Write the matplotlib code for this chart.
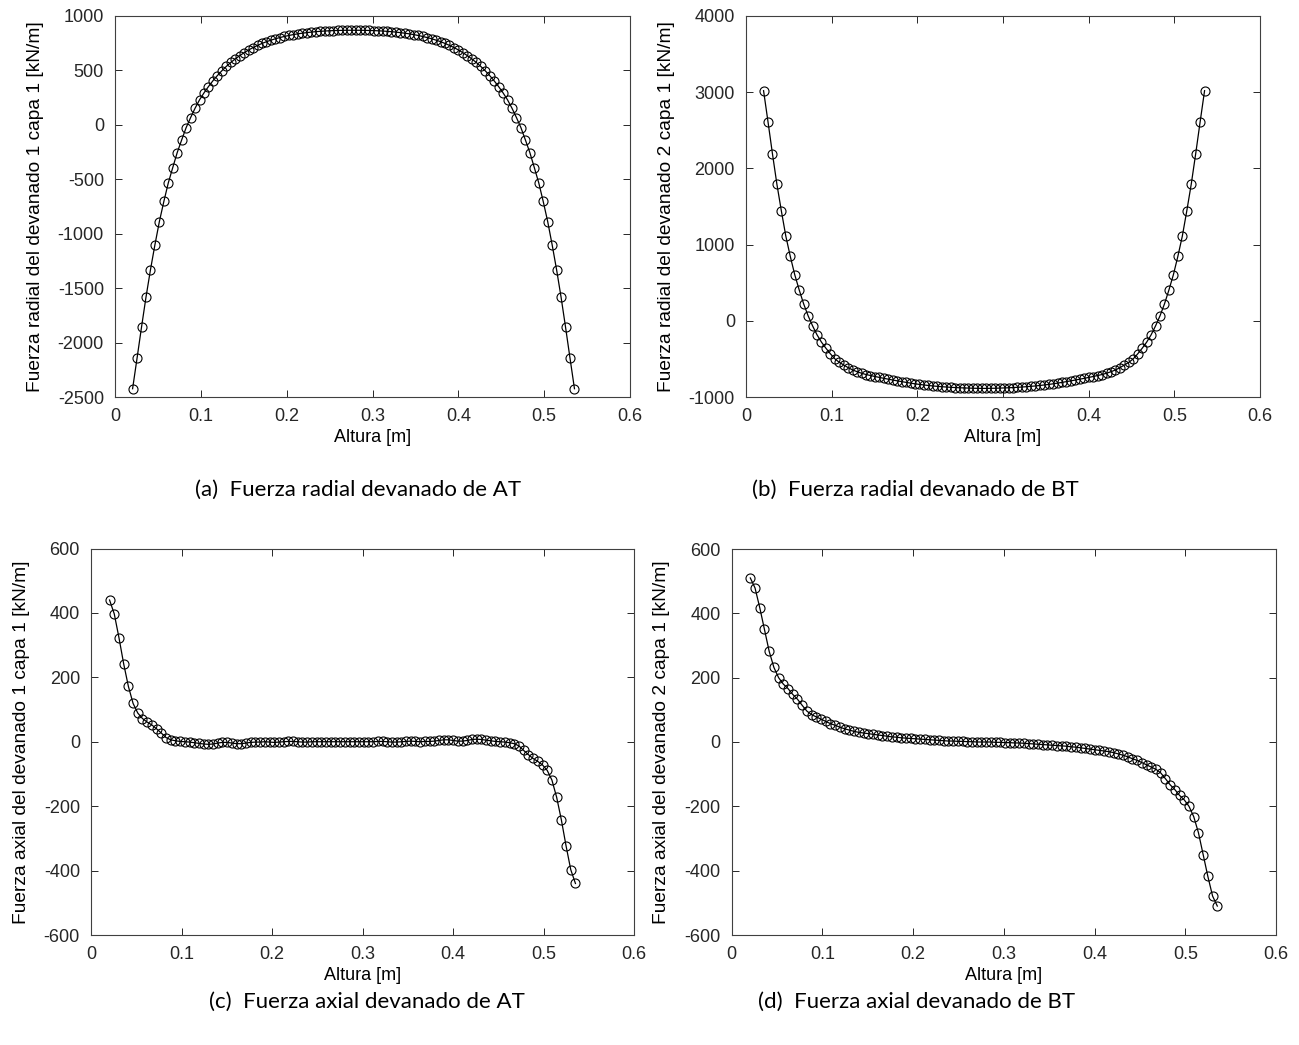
import matplotlib
matplotlib.use("Agg")
import matplotlib.pyplot as plt

# Altura [m] (disc positions)
altura = [0.0205, 0.0257, 0.0309, 0.0361, 0.0413, 0.0465, 0.0517, 0.0569, 0.0621, 0.0673,
          0.0725, 0.0777, 0.0829, 0.0881, 0.0933, 0.0985, 0.1037, 0.1089, 0.1141, 0.1193,
          0.1245, 0.1297, 0.1349, 0.1401, 0.1453, 0.1505, 0.1557, 0.1609, 0.1661, 0.1713,
          0.1765, 0.1817, 0.1869, 0.1921, 0.1973, 0.2025, 0.2077, 0.2129, 0.2181, 0.2233,
          0.2285, 0.2337, 0.2389, 0.2441, 0.2493, 0.2545, 0.2597, 0.2649, 0.2701, 0.2753,
          0.2805, 0.2857, 0.2909, 0.2961, 0.3013, 0.3065, 0.3117, 0.3169, 0.3221, 0.3273,
          0.3325, 0.3377, 0.3429, 0.3481, 0.3533, 0.3585, 0.3637, 0.3689, 0.3741, 0.3793,
          0.3845, 0.3897, 0.3949, 0.4001, 0.4053, 0.4105, 0.4157, 0.4209, 0.4261, 0.4313,
          0.4365, 0.4417, 0.4469, 0.4521, 0.4573, 0.4625, 0.4677, 0.4729, 0.4781, 0.4833,
          0.4885, 0.4937, 0.4989, 0.5041, 0.5093, 0.5145, 0.5197, 0.5249, 0.5301, 0.5353]

radial_at = [-2424, -2143, -1858, -1583, -1332, -1102, -888, -704, -533, -392,
             -254, -138, -25, 67, 153, 230, 294, 352, 405, 453,
             497, 537, 573, 606, 636, 663, 688, 710, 730, 748,
             764, 778, 791, 802, 812, 821, 829, 836, 842, 847,
             852, 856, 859, 862, 864, 866, 867, 868, 869, 869,
             869, 869, 868, 867, 866, 864, 862, 859, 856, 852,
             847, 842, 836, 829, 821, 812, 802, 791, 778, 764,
             748, 730, 710, 688, 663, 636, 606, 573, 537, 497,
             453, 405, 352, 294, 230, 153, 67, -25, -138, -254,
             -392, -533, -704, -888, -1102, -1332, -1583, -1858, -2143, -2424]

radial_bt = [3020, 2610, 2190, 1790, 1440, 1110, 845, 605, 405, 222,
             66, -66, -184, -280, -360, -433, -499, -545, -580, -615,
             -645, -668, -688, -705, -718, -731, -743, -755, -766, -777,
             -788, -798, -808, -818, -827, -835, -842, -849, -855, -860,
             -865, -869, -873, -876, -879, -881, -883, -885, -886, -887,
             -887, -886, -885, -883, -881, -879, -876, -873, -869, -865,
             -860, -855, -849, -842, -835, -827, -818, -808, -798, -788,
             -777, -766, -755, -743, -731, -718, -705, -688, -668, -645,
             -615, -580, -545, -499, -433, -360, -280, -184, -66, 66,
             222, 405, 605, 845, 1110, 1440, 1790, 2190, 2610, 3020]

axial_at = [440, 397, 323, 242, 172, 119, 89, 72, 61, 52,
            40, 27, 13, 6, 3, 1, 0, -1, -3, -5,
            -7, -8, -7, -4, -2, -2, -4, -6, -6, -4,
            -2, -1, -1, 0, -1, -2, -1, 0, 1, 1,
            0, -1, -1, 0, 0, 0, 0, 0, 0, 0,
            0, 0, 0, 0, 0, 0, 0, 1, 1, 0,
            -1, -1, 0, 1, 2, 1, 0, 1, 1, 2,
            4, 6, 6, 4, 2, 2, 4, 7, 8, 7,
            5, 3, 1, 0, -1, -3, -6, -13, -27, -40,
            -52, -61, -72, -89, -119, -172, -242, -323, -397, -440]

axial_bt = [510, 479, 418, 350, 282, 232, 200, 180, 166, 148,
            133, 114, 96, 85, 78, 71, 64, 57, 52, 46,
            41, 37, 33, 30, 28, 26, 24, 22, 20, 18,
            16, 15, 13, 12, 11, 10, 9, 8, 7, 6,
            5, 4, 3, 3, 2, 2, 1, 1, 0, 0,
            0, 0, -1, -1, -2, -2, -3, -3, -4, -5,
            -6, -7, -8, -9, -10, -11, -12, -13, -15, -16,
            -18, -20, -22, -24, -26, -28, -30, -33, -37, -41,
            -46, -52, -57, -64, -71, -78, -85, -96, -114, -133,
            -148, -166, -180, -200, -232, -282, -350, -418, -479, -510]

x_ticks = [0, 0.1, 0.2, 0.3, 0.4, 0.5, 0.6]
x_tick_labels = ["0", "0.1", "0.2", "0.3", "0.4", "0.5", "0.6"]

panels = [
    dict(y=radial_at, ylabel="Fuerza radial del devanado 1 capa 1 [kN/m]",
         yticks=[-2500, -2000, -1500, -1000, -500, 0, 500, 1000], ylim=(-2500, 1000),
         caption="(a)  Fuerza radial devanado de AT"),
    dict(y=radial_bt, ylabel="Fuerza radial del devanado 2 capa 1 [kN/m]",
         yticks=[-1000, 0, 1000, 2000, 3000, 4000], ylim=(-1000, 4000),
         caption="(b)  Fuerza radial devanado de BT"),
    dict(y=axial_at, ylabel="Fuerza axial del devanado 1 capa 1 [kN/m]",
         yticks=[-600, -400, -200, 0, 200, 400, 600], ylim=(-600, 600),
         caption="(c)  Fuerza axial devanado de AT"),
    dict(y=axial_bt, ylabel="Fuerza axial del devanado 2 capa 1 [kN/m]",
         yticks=[-600, -400, -200, 0, 200, 400, 600], ylim=(-600, 600),
         caption="(d)  Fuerza axial devanado de BT"),
]

W, H = 1299, 1045
fig = plt.figure(figsize=(W / 100, H / 100), dpi=100)
fig.patch.set_facecolor("white")

# axes boxes in pixels: left, top, right, bottom
boxes = [(115, 16, 630, 397), (746, 16, 1260, 397),
         (91, 548.5, 634, 935), (731.7, 549, 1276, 935)]
caption_pos = [(358, 490), (915, 490), (367, 1002), (917, 1002)]

tick_font = ["Liberation Sans", "DejaVu Sans"]
axcol = "#262626"

for p, (l, t, r, b), (cx, cy) in zip(panels, boxes, caption_pos):
    ax = fig.add_axes([l / W, 1 - b / H, (r - l) / W, (b - t) / H])
    ax.plot(altura, p["y"], color="black", linewidth=0.9, marker="o",
            markersize=6.5, markerfacecolor="none", markeredgecolor="black",
            markeredgewidth=0.8)
    ax.set_xlim(0, 0.6)
    ax.set_ylim(*p["ylim"])
    ax.set_xticks(x_ticks)
    ax.set_xticklabels(x_tick_labels)
    ax.set_yticks(p["yticks"])
    ax.set_yticklabels([str(v) for v in p["yticks"]])
    ax.tick_params(direction="in", length=5, width=0.7, top=True, right=True,
                   colors=axcol, labelsize=13)
    ax.tick_params(axis="x", pad=8)
    ax.tick_params(axis="y", pad=8)
    for lab in ax.get_xticklabels() + ax.get_yticklabels():
        lab.set_family(tick_font)
    for s in ax.spines.values():
        s.set_color("#404040")
        s.set_linewidth(0.8)
    ax.set_xlabel("Altura [m]", fontsize=13, family=tick_font, color="black", labelpad=3)
    ax.set_ylabel(p["ylabel"], fontsize=13.8, family=tick_font, color="black", labelpad=10)
    fig.text(cx / W, 1 - cy / H, p["caption"], ha="center", va="center",
             fontsize=16, family=["Lato", "DejaVu Sans"], color="black")

fig.savefig("out.png", dpi=100, facecolor="white")
